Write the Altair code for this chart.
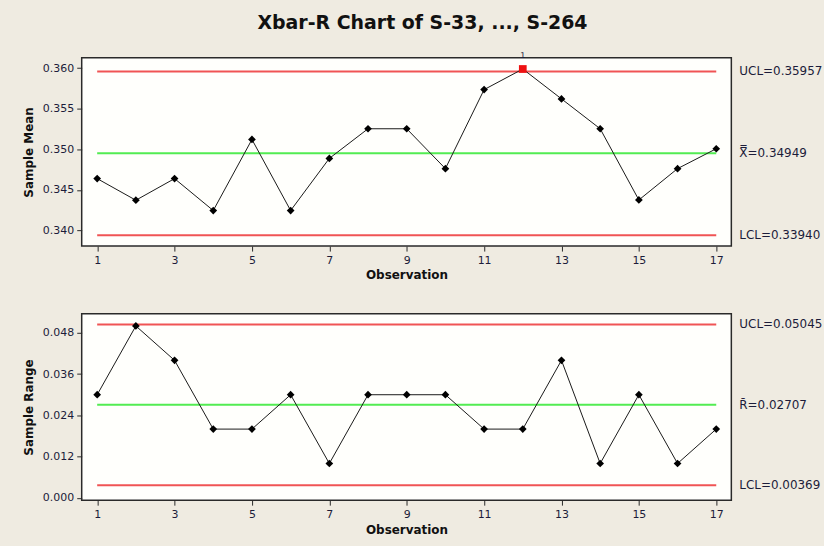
import altair as alt
import pandas as pd

# Subgroup statistics for samples S-33 ... S-264
observation = list(range(1, 18))
sample_mean = [0.34638, 0.34372, 0.34638, 0.34245, 0.35120, 0.34245, 0.34887,
               0.35252, 0.35252, 0.34761, 0.35734, 0.35988, 0.35620, 0.35252,
               0.34375, 0.34761, 0.35006]
sample_range = [0.030, 0.050, 0.040, 0.020, 0.020, 0.030, 0.010, 0.030, 0.030,
                0.030, 0.020, 0.020, 0.040, 0.010, 0.030, 0.010, 0.020]

# Control limits
xbar_limits = [0.35957, 0.34949, 0.33940]
xbar_limit_labels = ["UCL=0.35957", "X\u033F=0.34949", "LCL=0.33940"]
r_limits = [0.05045, 0.02707, 0.00369]
r_limit_labels = ["UCL=0.05045", "R\u0304=0.02707", "LCL=0.00369"]
limit_kind = ["UCL", "CL", "LCL"]

x_ticks = [1, 3, 5, 7, 9, 11, 13, 15, 17]
mean_ticks = [0.340, 0.345, 0.350, 0.355, 0.360]
range_ticks = [0.000, 0.012, 0.024, 0.036, 0.048]

W = 652
FONT = "DejaVu Sans"
NAVY = "#1c1c3a"

obs_df = pd.DataFrame({"obs": observation, "mean": sample_mean, "range": sample_range})
obs_df["mean_out"] = obs_df["mean"] > xbar_limits[0]
obs_df["range_out"] = (obs_df["range"] > r_limits[0]) | (obs_df["range"] < r_limits[2])


def limits_frame(values, labels):
    return pd.DataFrame({"value": values, "label": labels, "kind": limit_kind})


def panel(col, out_col, limits, labels, y_domain, y_ticks, y_title, height):
    x_scale = alt.Scale(domain=[0.6, 17.39], nice=False, zero=False)
    y_scale = alt.Scale(domain=y_domain, nice=False, zero=False)
    x_axis = alt.Axis(values=x_ticks, title="Observation", format="d")
    y_axis = alt.Axis(values=y_ticks, title=y_title, format=".3f")

    lim = limits_frame(limits, labels)
    limit_color = alt.Color(
        "kind:N",
        scale=alt.Scale(domain=limit_kind, range=["#f05454", "#52ec52", "#f05454"]),
        legend=None,
    )
    rules = alt.Chart(lim).mark_rule(strokeWidth=2).encode(
        x=alt.datum(1, scale=x_scale, axis=x_axis),
        x2=alt.datum(17),
        y=alt.Y("value:Q", scale=y_scale, axis=y_axis),
        color=limit_color,
    )
    tags = alt.Chart(lim).mark_text(
        align="left", baseline="middle", font=FONT, fontSize=12, color=NAVY
    ).encode(
        x=alt.value(W + 8),
        y=alt.Y("value:Q", scale=y_scale),
        text="label:N",
    )

    base = alt.Chart(obs_df).encode(
        x=alt.X("obs:Q", scale=x_scale, axis=x_axis),
        y=alt.Y(f"{col}:Q", scale=y_scale, axis=y_axis),
    )
    line = base.mark_line(color="#1a1a1a", strokeWidth=1)
    pts = base.transform_filter(f"!datum.{out_col}").mark_point(
        shape="diamond", filled=True, size=60, color="#000000", opacity=1
    )
    out_pts = base.transform_filter(f"datum.{out_col}").mark_point(
        shape="square", filled=True, size=60, color="#ee1111", opacity=1
    )
    out_tag = base.transform_filter(f"datum.{out_col}").mark_text(
        dy=-13, font=FONT, fontSize=8, color=NAVY
    ).encode(text=alt.value("1"))

    return alt.layer(rules, line, pts, out_pts, out_tag, tags).properties(
        width=W, height=height
    )


top = panel("mean", "mean_out", xbar_limits, xbar_limit_labels,
            [0.33807, 0.36126], mean_ticks, "Sample Mean", 189)
bottom = panel("range", "range_out", r_limits, r_limit_labels,
               [-0.00067, 0.05352], range_ticks, "Sample Range", 187)

chart = alt.vconcat(top, bottom, spacing=31).properties(
    title=alt.TitleParams(
        "Xbar-R Chart of S-33, ..., S-264",
        font=FONT, fontSize=19, fontWeight="bold", color="#111111",
        anchor="middle", offset=18,
    ),
    background="#efebe1",
    padding={"left": 21, "top": 13, "right": 0, "bottom": 10},
).configure_view(
    fill="#fffffc", stroke="#2a2a2a", strokeWidth=1.5
).configure_axis(
    grid=False, domain=False, ticks=True, tickSize=5, tickColor="#2a2a2a",
    labelFont=FONT, labelFontSize=11, labelColor=NAVY, labelPadding=3,
    titleFont=FONT, titleFontSize=12, titleFontWeight="bold", titleColor="#111111",
    titlePadding=7,
).configure_axisX(titlePadding=5)

chart.save("out.html", embed_options={"renderer": "svg", "actions": False})
